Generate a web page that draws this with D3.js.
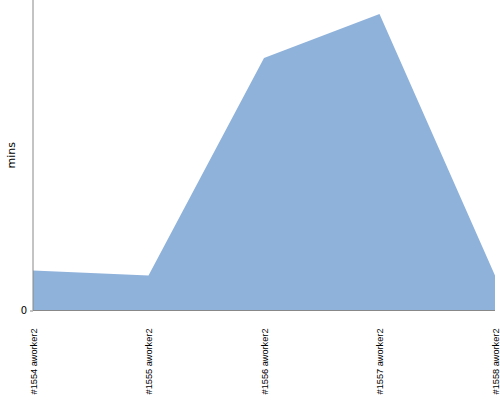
<!DOCTYPE html>
<html><head><meta charset="utf-8">
<script src="https://cdn.jsdelivr.net/npm/d3@7"></script>
<style>body{margin:0;background:#fff}svg{display:block}</style>
</head><body>
<svg id="c" width="500" height="400"></svg>
<script>
const categories = ["#1554 aworker2","#1555 aworker2","#1556 aworker2","#1557 aworker2","#1558 aworker2"];
const values = [4.0, 3.5, 25.2, 29.6, 3.5];
const yTicks = [0];
const yMax = 31;

const svg = d3.select("#c");
const m = {l:33, r:5, t:0, b:89.5};
const W = 500, H = 400;
const x = d3.scalePoint().domain(categories).range([m.l, W - m.r]);
const y = d3.scaleLinear().domain([0, yMax]).range([H - m.b, m.t]);

const area = d3.area().x((d,i)=>x(categories[i])).y0(y(0)).y1(d=>y(d));
svg.append("path").datum(values).attr("d", area).attr("fill", "#8fb2db");

const xa = svg.append("g").attr("transform", `translate(0,${y(0)})`)
  .call(d3.axisBottom(x).tickSize(0).tickPadding(0));
xa.select(".domain").attr("stroke", "#888").attr("d", `M${m.l},0H${W-m.r}`);
xa.selectAll("text")
  .attr("font-family", "Liberation Sans, Arial, sans-serif").attr("font-size", 9.2)
  .attr("fill", "#000")
  .attr("transform", "rotate(-90)").attr("text-anchor", "end")
  .attr("x", -18).attr("y", 0).attr("dy", "0.35em");

const ya = svg.append("g").attr("transform", `translate(${m.l},0)`)
  .call(d3.axisLeft(y).tickValues(yTicks).tickSize(3).tickPadding(3));
ya.select(".domain").attr("stroke", "#888").attr("d", `M0,${m.t}V${y(0)}`);
ya.selectAll(".tick line").attr("stroke", "#888");
ya.selectAll("text").attr("font-family", "DejaVu Sans, sans-serif").attr("font-size", 10).attr("fill", "#000");

svg.append("text").text("mins")
  .attr("transform", `translate(15,${(m.t + y(0))/2}) rotate(-90)`)
  .attr("text-anchor", "middle")
  .attr("font-family", "DejaVu Sans, sans-serif").attr("font-size", 11);
</script>
</body></html>
